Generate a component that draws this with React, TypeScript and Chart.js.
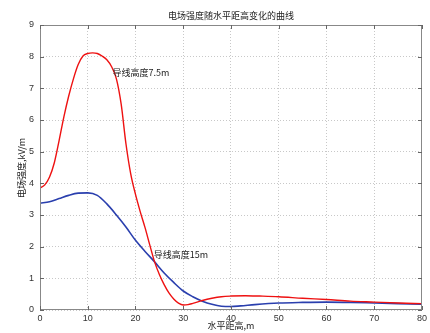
import React, { useEffect, useRef } from "react";
import { Chart, registerables } from "chart.js";

Chart.register(...registerables);

const titleText = "电场强度随水平距高变化的曲线";
const xTitle = "水平距高,m";
const yTitle = "电场强度,kV/m";
const label75 = "导线高度7.5m";
const label15 = "导线高度15m";

const redX = [0, 1, 2, 3, 4, 5, 6, 7, 8, 9, 10, 11, 12, 13, 14, 15, 16, 17, 18, 19, 20, 21, 22, 23, 24, 25, 26, 27, 28, 29, 30, 31, 32, 34, 36, 38, 40, 43, 46, 50, 55, 60, 65, 70, 75, 80];
const redY = [3.85, 3.95, 4.2, 4.65, 5.35, 6.1, 6.75, 7.3, 7.75, 8.02, 8.1, 8.12, 8.1, 8.02, 7.9, 7.68, 7.3, 6.5, 5.25, 4.3, 3.65, 3.1, 2.6, 2.05, 1.52, 1.12, 0.8, 0.54, 0.35, 0.22, 0.16, 0.17, 0.21, 0.3, 0.37, 0.42, 0.44, 0.45, 0.44, 0.42, 0.37, 0.33, 0.28, 0.25, 0.22, 0.2];

const blueX = [0, 2, 4, 6, 8, 10, 12, 14, 16, 18, 20, 22, 24, 26, 28, 30, 32, 34, 36, 38, 40, 42, 45, 50, 55, 60, 65, 70, 75, 80];
const blueY = [3.37, 3.42, 3.52, 3.62, 3.69, 3.7, 3.62, 3.35, 3.0, 2.62, 2.2, 1.85, 1.52, 1.17, 0.87, 0.6, 0.42, 0.28, 0.18, 0.12, 0.11, 0.13, 0.17, 0.22, 0.24, 0.25, 0.24, 0.22, 0.2, 0.18];

const xTicks = [0, 10, 20, 30, 40, 50, 60, 70, 80];
const yTicks = [0, 1, 2, 3, 4, 5, 6, 7, 8, 9];

const cjk = '"Noto Sans CJK SC", "Liberation Sans", sans-serif';
const latin = '"Liberation Sans", Arial, sans-serif';

export default function App() {
  const ref = useRef<HTMLCanvasElement>(null);
  useEffect(() => {
    document.body.style.margin = "0";
    const ctx = ref.current!.getContext("2d")!;
    const deco = {
      id: "deco",
      afterDraw(chart: any) {
        const c = chart.ctx;
        const a = chart.chartArea;
        const xs = chart.scales.x;
        const ys = chart.scales.y;
        c.save();
        c.strokeStyle = "#888";
        c.lineWidth = 1;
        c.strokeRect(a.left + 0.5, a.top + 0.5, a.right - a.left - 1, a.bottom - a.top - 1);
        c.strokeStyle = "#666";
        for (const v of xTicks) {
          const px = Math.round(xs.getPixelForValue(v)) + 0.5;
          c.beginPath();
          c.moveTo(px, a.bottom);
          c.lineTo(px, a.bottom - 4);
          c.moveTo(px, a.top);
          c.lineTo(px, a.top + 4);
          c.stroke();
        }
        for (const v of yTicks) {
          const py = Math.round(ys.getPixelForValue(v)) + 0.5;
          c.beginPath();
          c.moveTo(a.left, py);
          c.lineTo(a.left + 4, py);
          c.moveTo(a.right, py);
          c.lineTo(a.right - 4, py);
          c.stroke();
        }
        c.fillStyle = "#222";
        c.font = "9px " + cjk;
        c.textAlign = "center";
        c.textBaseline = "middle";
        c.fillText(titleText, (a.left + a.right) / 2, 16);
        c.fillText(xTitle, (a.left + a.right) / 2, 326);
        c.save();
        c.translate(22, 168);
        c.rotate(-Math.PI / 2);
        c.fillText(yTitle, 0, 0);
        c.restore();
        c.textAlign = "left";
        c.fillText(label75, xs.getPixelForValue(15.2), ys.getPixelForValue(7.5));
        c.fillText(label15, xs.getPixelForValue(23.8), ys.getPixelForValue(1.75));
        c.restore();
      },
    };
    const chart = new Chart(ctx, {
      type: "line",
      data: {
        datasets: [
          {
            data: redX.map((x, i) => ({ x, y: redY[i] })),
            borderColor: "#ee1111",
            borderWidth: 1.4,
            pointRadius: 0,
            cubicInterpolationMode: "monotone",
            fill: false,
          },
          {
            data: blueX.map((x, i) => ({ x, y: blueY[i] })),
            borderColor: "#2a3fae",
            borderWidth: 1.6,
            pointRadius: 0,
            cubicInterpolationMode: "monotone",
            fill: false,
          },
        ],
      },
      options: {
        animation: false,
        responsive: false,
        layout: { padding: { left: 0, right: 4, top: 25, bottom: 0 } },
        plugins: { legend: { display: false }, tooltip: { enabled: false }, title: { display: false } },
        scales: {
          x: {
            type: "linear",
            min: 0,
            max: 80,
            afterFit: (s: any) => { s.height = 23; },
            afterBuildTicks: (s: any) => { s.ticks = xTicks.map((v) => ({ value: v })); },
            ticks: { font: { size: 9, family: latin }, color: "#333", padding: 3, maxRotation: 0 },
            grid: { color: "#c8c8c8", drawTicks: false, tickLength: 0 },
            border: { display: false, dash: [1, 2] },
          },
          y: {
            min: 0,
            max: 9,
            afterFit: (s: any) => { s.width = 40; },
            afterBuildTicks: (s: any) => { s.ticks = yTicks.map((v) => ({ value: v })); },
            ticks: { font: { size: 9, family: latin }, color: "#333", padding: 6 },
            grid: { color: "#c8c8c8", drawTicks: false, tickLength: 0 },
            border: { display: false, dash: [1, 2] },
          },
        },
      },
      plugins: [deco],
    } as any);
    return () => chart.destroy();
  }, []);
  return <canvas ref={ref} width={430} height={333} style={{ display: "block", width: 430, height: 333 }} />;
}
